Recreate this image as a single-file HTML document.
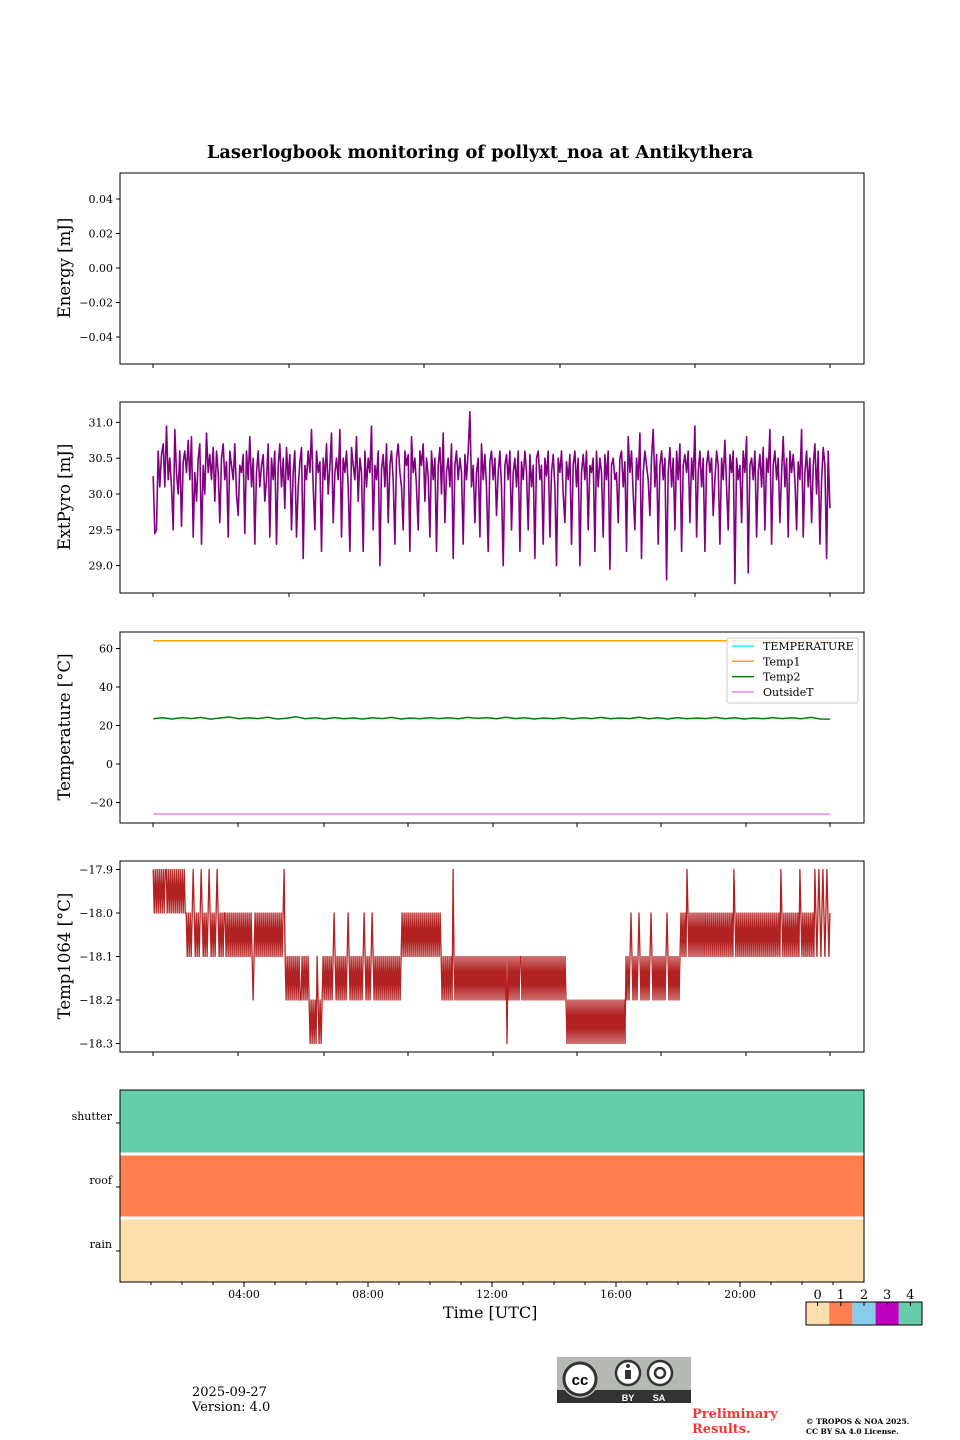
<!DOCTYPE html>
<html><head><meta charset="utf-8"><style>
body{margin:0;background:#fff}
svg{display:block;font-family:"DejaVu Serif","Liberation Serif",serif}
</style></head><body>
<svg id="fig" width="960" height="1440" viewBox="0 0 960 1440" xmlns="http://www.w3.org/2000/svg">
<text x="480" y="158" text-anchor="middle" font-size="17.8" font-weight="bold">Laserlogbook monitoring of pollyxt_noa at Antikythera</text>
<g id="plots"></g>
<g id="cbar"></g>
<text x="443" y="1318" font-size="16">Time [UTC]</text>
<text x="192" y="1396" font-size="13">2025-09-27</text>
<text x="192" y="1411" font-size="13">Version: 4.0</text>
<g>
<rect x="557" y="1357" width="134" height="46" fill="#b5b9b4"/>
<rect x="557" y="1390" width="134" height="13" fill="#333"/>
<circle cx="580" cy="1379" r="19" fill="#b5b9b4"/>
<circle cx="580" cy="1379" r="16" fill="#fff" stroke="#333" stroke-width="3"/>
<text x="580" y="1385" text-anchor="middle" font-size="15" font-weight="bold" font-family="Liberation Sans,sans-serif">cc</text>
<circle cx="628" cy="1373" r="12" fill="#fff" stroke="#333" stroke-width="2.5"/>
<rect x="625" y="1370" width="6" height="9" fill="#333"/><circle cx="628" cy="1366" r="2" fill="#333"/>
<circle cx="660" cy="1373" r="12" fill="#fff" stroke="#333" stroke-width="2.5"/>
<circle cx="660" cy="1373" r="5" fill="none" stroke="#333" stroke-width="2.5"/>
<text x="628" y="1401" text-anchor="middle" font-size="9" fill="#fff" font-weight="bold" font-family="Liberation Sans,sans-serif">BY</text>
<text x="659" y="1401" text-anchor="middle" font-size="9" fill="#fff" font-weight="bold" font-family="Liberation Sans,sans-serif">SA</text>
</g>
<text x="692" y="1418" font-size="13" font-weight="bold" fill="#ff3333">Preliminary</text>
<text x="692" y="1433" font-size="13" font-weight="bold" fill="#ff3333">Results.</text>
<text x="806" y="1424" font-size="7.5" font-weight="bold">© TROPOS &amp; NOA 2025.</text>
<text x="806" y="1434" font-size="7.5" font-weight="bold">CC BY SA 4.0 License.</text>
</svg>
<script>
const NS="http://www.w3.org/2000/svg";
const pyro=[30.25,29.45,29.5,30.6,30.1,30.55,30.7,30.1,30.95,30.2,30.5,30.1,29.5,30.9,30.3,30.0,30.6,29.55,30.45,30.6,30.3,30.75,30.2,30.8,29.4,30.3,29.9,30.5,30.7,29.3,30.4,30.0,30.85,30.3,30.55,30.2,30.65,29.9,30.6,30.3,29.6,30.5,30.7,30.2,30.45,29.4,30.6,30.4,30.2,30.7,30.0,29.7,30.4,30.3,30.55,29.45,30.6,30.2,30.8,30.1,30.5,29.3,30.3,30.6,30.1,30.4,30.55,29.9,30.2,30.7,29.4,30.5,30.2,30.6,29.3,30.4,30.7,30.1,30.5,29.8,30.65,30.2,30.55,29.5,30.3,30.6,29.4,30.1,30.45,30.65,29.1,30.4,30.2,30.6,30.3,30.9,30.1,29.5,30.6,30.3,30.45,29.2,30.5,30.2,30.7,30.0,30.4,30.85,29.6,30.3,30.5,30.2,30.9,29.4,30.5,30.3,30.6,30.1,29.2,30.65,30.4,30.2,30.8,29.9,30.5,30.3,29.2,30.6,30.1,30.5,30.3,30.95,29.5,30.4,30.2,30.6,29.0,30.35,30.55,30.1,30.7,29.6,30.4,30.6,30.2,29.3,30.5,30.7,30.3,30.1,29.5,30.6,30.4,30.55,29.2,30.8,30.3,30.5,30.1,29.5,30.6,30.4,30.7,29.9,30.5,30.25,29.4,30.6,30.2,30.5,29.2,30.4,30.65,30.0,30.85,29.6,30.3,30.5,30.1,30.7,29.1,30.4,30.6,30.2,30.5,30.3,29.3,30.55,30.2,30.6,31.15,30.1,30.4,29.6,30.3,30.5,29.4,30.7,30.2,30.55,30.1,29.2,30.45,30.6,30.2,30.5,29.7,30.3,30.6,30.1,29.0,30.4,30.55,30.2,30.6,29.5,30.3,30.5,30.1,30.6,29.2,30.45,30.2,30.6,30.3,29.5,30.55,30.1,30.4,29.1,30.5,30.6,30.2,30.4,29.3,30.5,30.25,30.6,29.4,30.3,30.55,30.1,29.0,30.5,30.3,30.6,30.0,29.6,30.45,30.2,30.55,29.3,30.4,30.6,30.1,30.5,29.0,30.3,30.55,30.2,30.6,29.5,30.4,30.3,30.5,29.2,30.6,30.1,30.5,30.3,29.4,30.55,30.2,30.6,28.95,30.4,30.5,30.2,30.3,29.6,30.5,30.6,30.1,30.45,29.2,30.8,30.3,30.6,30.0,29.5,30.5,30.2,30.85,29.1,30.3,30.6,30.4,30.2,29.7,30.5,30.9,30.1,30.55,29.3,30.4,30.6,30.2,30.5,28.8,30.3,30.65,30.1,30.5,29.5,30.6,30.2,30.7,29.2,30.4,30.55,30.3,30.6,29.6,30.5,30.2,30.95,29.4,30.3,30.6,30.1,30.5,29.2,30.4,30.6,30.3,30.5,29.7,30.2,30.6,30.4,29.3,30.5,30.2,30.75,30.1,29.5,30.55,30.3,30.6,28.75,30.5,30.2,30.4,29.6,30.6,30.3,30.8,28.9,30.4,30.5,30.2,30.6,29.4,30.3,30.55,30.1,30.65,29.5,30.5,30.3,30.9,29.3,30.4,30.6,30.2,30.5,29.6,30.3,30.8,30.1,30.5,29.4,30.6,30.3,30.55,30.2,29.5,30.45,30.2,30.9,29.4,30.3,30.6,30.1,30.5,29.6,30.4,30.7,30.0,30.6,29.3,30.2,30.65,30.4,29.1,30.6,29.8];
const temp1Vals=[64,64,64,64,64,64];
const temp2Vals=[23.5,24,23.4,24.1,23.6,24.2,23.3,23.9,24.4,23.5,24,23.6,24.3,23.4,23.8,24.5,23.5,24,23.4,24.1,23.5,23.9,23.4,24,23.6,24.2,23.4,23.9,23.5,24.1,23.6,24,23.5,24.2,23.7,24.1,23.5,24.3,23.6,24,23.4,23.9,23.5,24.1,23.4,24.0,23.6,24.2,23.5,23.9,23.6,24.3,23.5,24.0,23.4,24.1,23.5,23.9,23.6,24.2,23.5,24.0,23.4,23.9,23.5,24.1,23.6,24.0,23.5,24.2,23.4,23.3];
const outsideVals=[-26,-26,-26,-26,-26,-26];
const levels1064=
"010101010101001010101010101010101"+
"121212101212121012121210121212101212121"+
"121212121212121212121212121232121212121212121212121212121210"+
"2323232323232323"+
"3232323234343434234343232323232321232323232323212323232323232321232323212323232323232323232323232323"+
"2121212121212121212121212121212121212121"+
"23232323232302323232323232323232323232323232323232323232323232323242323232323232"+
"232323232323232323232323232323232323232323232"+
"343434343434343434343434343434343434343434343434343434343434"+
"2323212323232123232323232123232323232323212323232323232"+
"121212012121212121212121212121212121212121212121212120121212121212121212121212121212121212121212121201212121212121212120121212121212120121012101210121";
const temp1064=levels1064.split('').map(d=>-17.9-0.1*Number(d));
const statusLabels=["rain","roof","shutter"];
const statusCodes=[0,1,4];
const cbarLabels=["0","1","2","3","4"];
const cbarColors=["#ffdead","#ff7f50","#87ceeb","#bf00bf","#66cdaa"];
const t0=1.07,t1=22.9;
const X=h=>120+h*31;
function el(tag,a,p){const e=document.createElementNS(NS,tag);for(const k in a)e.setAttribute(k,a[k]);p.appendChild(e);return e;}
const root=document.getElementById('plots');
function panel(name,top,ymap,ticks,fmt,label,xticks){
  const g=el('g',{},root);
  
  
  const Y=v=>ymap[0]+(v-ymap[1])*ymap[2];
  ticks.forEach(t=>{const y=Y(t);el('line',{x1:116,x2:120,y1:y,y2:y,stroke:'#000'},g);
    const tx=el('text',{x:113,y:y+4,'text-anchor':'end','font-size':11},g);tx.textContent=fmt(t);
    
    });
  xticks.forEach(x=>el('line',{x1:x,x2:x,y1:top+191,y2:top+195,stroke:'#000'},g));
  const yl=el('text',{x:0,y:0,'text-anchor':'middle','font-size':16.5,transform:`translate(70,${top+95}) rotate(-90)`},g);yl.textContent=label;
  
  
  return {g,Y,top};
}
function line(p,vals,color,w,name){
  const n=vals.length;const pts=vals.map((v,i)=>X(t0+(t1-t0)*i/(n-1)).toFixed(1)+','+p.Y(v).toFixed(1)).join(' ');
  const pl=el('polyline',{points:pts,fill:'none',stroke:color,'stroke-width':w,'stroke-linejoin':'round'},p.g);
  
  
}
function frame(p){el('rect',{x:120,y:p.top,width:744,height:191,fill:'none',stroke:'#000','stroke-width':1},p.g);}
const xt6=[153,289,424,560,695,830], xt9=[153,238,324,408,493,577,661,746,830];
let p=panel('energy-panel',173,[268,0,-1725],[0.04,0.02,0,-0.02,-0.04],v=>(v<0?'\u2212':'')+Math.abs(v).toFixed(2),'Energy [mJ]',xt6);frame(p);
p=panel('extpyro-panel',402,[494,30,-71.6],[31,30.5,30,29.5,29],v=>v.toFixed(1),'ExtPyro [mJ]',xt6);
line(p,pyro,'#800080',1.6,'extpyro-line');frame(p);
p=panel('temperature-panel',632,[764,0,-1.925],[60,40,20,0,-20],v=>(v<0?'\u2212':'')+Math.abs(v),'Temperature [°C]',xt9);
line(p,temp1Vals,'#ffa500',1.5,'temp1-line');line(p,temp2Vals,'#008000',1.5,'temp2-line');line(p,outsideVals,'#ee82ee',1.5,'outsidet-line');frame(p);
const lg=el('g',{},p.g);


el('rect',{x:727,y:638,width:131,height:65,rx:2,fill:'#fff','fill-opacity':0.85,stroke:'#ccc'},lg);
[["TEMPERATURE","#00ffff"],["Temp1","#ffa500"],["Temp2","#008000"],["OutsideT","#ee82ee"]].forEach((e,i)=>{
  const y=646+i*15.3;el('line',{x1:732,x2:754,y1:y,y2:y,stroke:e[1],'stroke-width':1.5},lg);
  const t=el('text',{x:763,y:y+4,'font-size':11},lg);t.textContent=e[0];
  
  });
p=panel('temp1064-panel',861,[913,-18,-435],[-17.9,-18,-18.1,-18.2,-18.3],v=>'\u2212'+Math.abs(v).toFixed(1),'Temp1064 [°C]',xt9);
line(p,temp1064,'#b22222',1.3,'temp1064-line');frame(p);
const sg=el('g',{},root);


const rowH=192/3;
statusLabels.forEach((lab,i)=>{const yTop=1282-(i+1)*rowH;
  const r=el('rect',{x:120,y:yTop,width:744,height:rowH,fill:cbarColors[statusCodes[i]]},sg);
  
  
  if(i>0)el('line',{x1:120,x2:864,y1:yTop+rowH,y2:yTop+rowH,stroke:'#fff','stroke-width':3},sg);
  const yc=yTop+rowH/2+1;el('line',{x1:116,x2:120,y1:yc,y2:yc,stroke:'#000'},sg);
  const t=el('text',{x:112,y:yc-3,'text-anchor':'end','font-size':11},sg);t.textContent=lab;
  
  });
el('rect',{x:120,y:1090,width:744,height:192,fill:'none',stroke:'#000'},sg);
["04:00","08:00","12:00","16:00","20:00"].forEach((l,i)=>{const x=X(4*(i+1));
  el('line',{x1:x,x2:x,y1:1282,y2:1287,stroke:'#000'},sg);
  const t=el('text',{x:x,y:1298,'text-anchor':'middle','font-size':11},sg);t.textContent=l;
  
  });
for(let h=1;h<24;h++){if(h%4){const x=X(h);el('line',{x1:x,x2:x,y1:1282,y2:1285,stroke:'#000'},sg);}}
const cb=document.getElementById('cbar');
cbarColors.forEach((c,i)=>{const x=806+i*23.2;el('rect',{x:x,y:1302,width:23.2,height:23,fill:c},cb);
  el('line',{x1:x+11.6,x2:x+11.6,y1:1302,y2:1306,stroke:'#000'},cb);
  const t=el('text',{x:x+11.6,y:1299,'text-anchor':'middle','font-size':13},cb);t.textContent=cbarLabels[i];
  
  });
el('rect',{x:806,y:1302,width:116,height:23,fill:'none',stroke:'#000'},cb);
</script>
</body></html>
